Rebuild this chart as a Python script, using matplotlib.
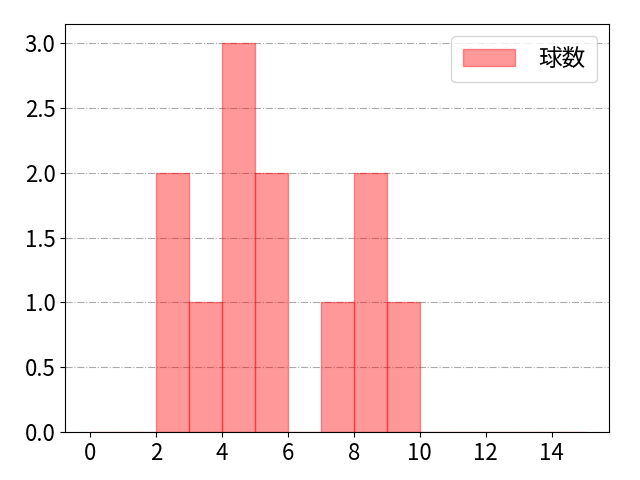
import matplotlib
matplotlib.use("Agg")
import matplotlib.pyplot as plt
import numpy as np

plt.rcParams['font.family'] = ['Noto Sans CJK JP', 'DejaVu Sans']
plt.rcParams['font.size'] = 16

# pitch counts per game
values = [2, 2, 3, 4, 4, 4, 5, 5, 7, 8, 8, 9]
bins = np.arange(0, 16)
label = '球数'

fig, ax = plt.subplots(figsize=(6.4, 4.8), dpi=100)
ax.hist(values, bins=bins, color='red', alpha=0.4, edgecolor='red', label=label)
ax.set_axisbelow(True)
ax.grid(axis='y', linestyle='-.', color='#aaaaaa')
ax.set_xticks(np.arange(0, 16, 2))
ax.legend(loc='upper right', fontsize=17, handlelength=2.2, handletextpad=1.0,
          borderpad=0.5)
fig.subplots_adjust(left=0.102, right=0.952, top=0.95, bottom=0.1)
fig.savefig('out.png')
